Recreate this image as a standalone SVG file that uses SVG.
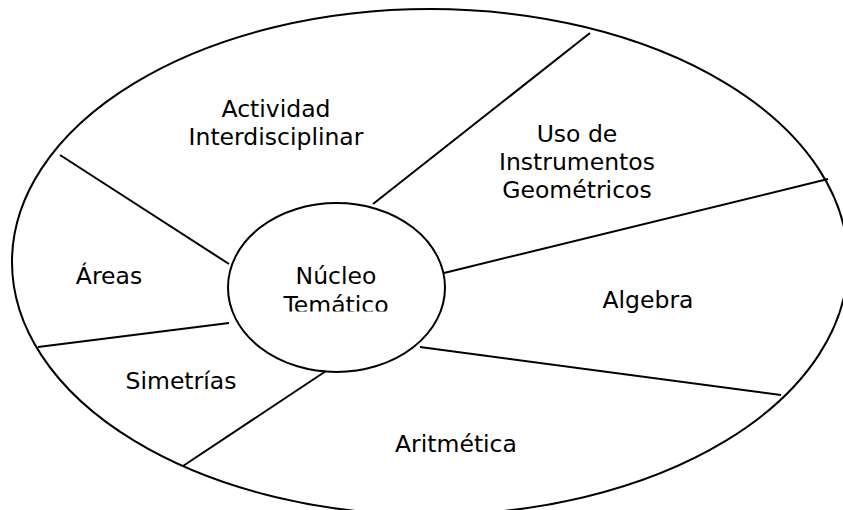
<svg xmlns="http://www.w3.org/2000/svg" width="843" height="510" viewBox="0 0 843 510">
<style>
.shape{fill:none;stroke:#000;stroke-width:2}
.conn line{stroke:#000;stroke-width:2}
text{font-family:"DejaVu Sans","Noto Sans",sans-serif;font-size:23.5px;fill:#000;text-anchor:middle}
</style>
<defs>
<clipPath id="coreClip"><rect x="220" y="200" width="240" height="111.5"/></clipPath>
</defs>
<rect width="843" height="510" fill="#fff"/>
<g id="outer"><ellipse class="shape" cx="430" cy="262" rx="418" ry="253"/></g>
<g id="connectors" class="conn">
<line x1="590" y1="33" x2="373" y2="204"/>
<line x1="828" y1="179" x2="444" y2="273"/>
<line x1="420" y1="347" x2="781" y2="395"/>
<line x1="326" y1="371" x2="183" y2="466"/>
<line x1="229" y1="323" x2="38" y2="347"/>
<line x1="60" y1="155" x2="229" y2="264"/>
</g>
<g id="nucleo">
<ellipse class="shape" cx="336.5" cy="287.5" rx="108.5" ry="84.5"/>
<g clip-path="url(#coreClip)"><text x="336" y="284">Núcleo</text><text x="336" y="313">Temático</text></g>
</g>
<g id="actividad"><text x="276" y="117">Actividad</text><text x="276" y="145">Interdisciplinar</text></g>
<g id="uso"><text x="577" y="142">Uso de</text><text x="577" y="170">Instrumentos</text><text x="577" y="198">Geométricos</text></g>
<g id="areas"><text x="109" y="284">Áreas</text></g>
<g id="algebra"><text x="648" y="308">Algebra</text></g>
<g id="simetrias"><text x="181" y="389">Simetrías</text></g>
<g id="aritmetica"><text x="456" y="452">Aritmética</text></g>
</svg>
